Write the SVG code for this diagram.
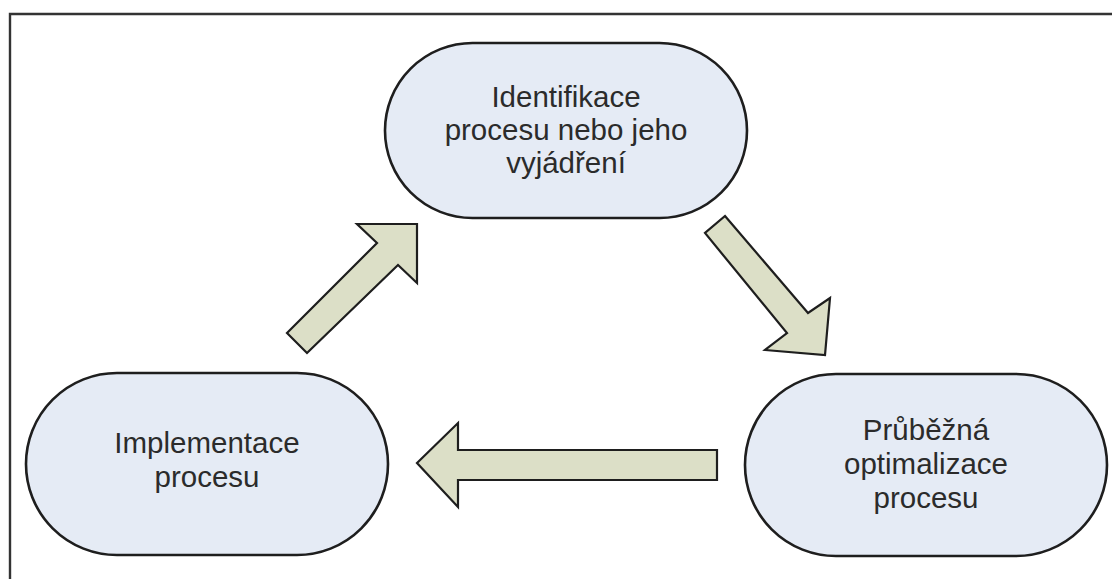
<svg xmlns="http://www.w3.org/2000/svg" width="1112" height="579" viewBox="0 0 1112 579">
<style>
.node{fill:#e5ebf5;stroke:#1e1e1e;stroke-width:2.6}
.arrow{fill:#dcdfc7;stroke:#1e1e1e;stroke-width:2.2;stroke-linejoin:miter}
.lbl{font-family:"Liberation Sans",Arial,sans-serif;font-size:29.5px;fill:#2b2b2b;text-anchor:middle}
.frame{fill:none;stroke:#333;stroke-width:2.4}
</style>
<rect width="1112" height="579" fill="#ffffff"/>
<path class="frame" d="M10 579 V14 H1112"/>
<g id="node-identifikace">
<rect class="node" x="385" y="43" width="362" height="175" rx="87.5" ry="87.5"/>
<text class="lbl" x="566" y="107">Identifikace</text>
<text class="lbl" x="566" y="140">procesu nebo jeho</text>
<text class="lbl" x="566" y="173">vyjádření</text>
</g>
<g id="node-optimalizace">
<rect class="node" x="745" y="374" width="362" height="182" rx="91" ry="91"/>
<text class="lbl" x="926" y="440">Průběžná</text>
<text class="lbl" x="926" y="474">optimalizace</text>
<text class="lbl" x="926" y="508">procesu</text>
</g>
<g id="node-implementace">
<rect class="node" x="26" y="373" width="362" height="182" rx="91" ry="91"/>
<text class="lbl" x="207" y="453">Implementace</text>
<text class="lbl" x="207" y="487">procesu</text>
</g>
<g id="connectors">
<polygon class="arrow" points="287,333 377,243 357,224 417,224 417,283 398,265 307,353"/>
<polygon class="arrow" points="725,216 808,313 830,298 825,355 765,350 787,333 705,233"/>
<polygon class="arrow" points="717,450 458,450 458,423 417,463 458,507 458,480 717,480"/>
</g>
</svg>
